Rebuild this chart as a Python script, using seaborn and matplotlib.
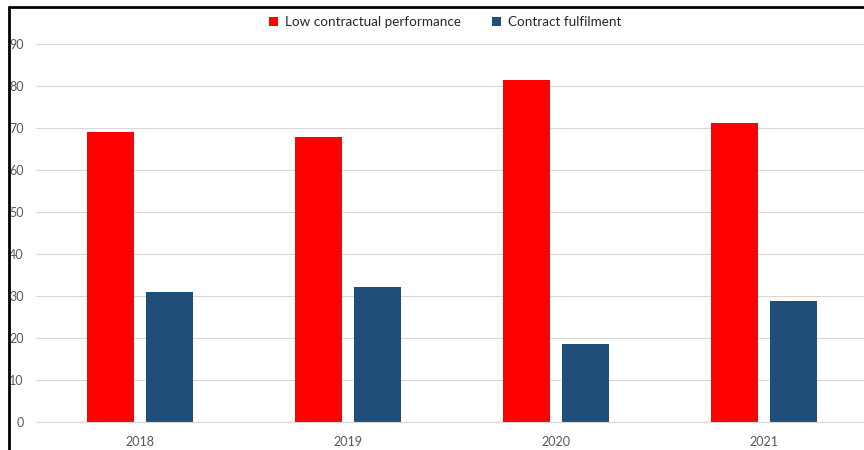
import matplotlib
matplotlib.use("Agg")
import matplotlib.pyplot as plt
import seaborn as sns
import pandas as pd
from matplotlib.lines import Line2D
from matplotlib.patches import Patch

years = ["2018", "2019", "2020", "2021"]
low_perf = [69.0, 67.8, 81.4, 71.3]
fulfilment = [30.9, 32.1, 18.6, 28.8]
series = ["Low contractual performance", "Contract fulfilment"]
colors = ["#FF0000", "#1F4E79"]

df = pd.DataFrame({
    "year": years * 2,
    "value": low_perf + fulfilment,
    "series": [series[0]] * len(years) + [series[1]] * len(years),
})

sns.set_style("white")
plt.rcParams['font.family'] = ['Lato', 'DejaVu Sans']

fig = plt.figure(figsize=(8.64, 4.5), dpi=100)
ax = fig.add_axes([36 / 864, 1 - 422 / 450, 832 / 864, 378 / 450])

sns.barplot(data=df, x="year", y="value", hue="series", palette=colors,
            saturation=1, width=0.567, gap=0.2, linewidth=0,
            legend=False, ax=ax)

ax.set_ylim(0, 90)
ax.set_xlim(-0.5, 3.5)
ax.set_yticks(range(0, 91, 10))
ax.yaxis.grid(True, color="#D9D9D9", linewidth=0.8)
ax.set_axisbelow(True)
for s in ["top", "right", "left"]:
    ax.spines[s].set_visible(False)
ax.spines["bottom"].set_color("#D9D9D9")
ax.spines["bottom"].set_linewidth(0.8)
ax.tick_params(axis="both", length=0, labelsize=9, labelcolor="#595959")
ax.tick_params(axis="y", pad=9)
ax.tick_params(axis="x", pad=10)
ax.set_xlabel("")
ax.set_ylabel("")

handles = [Patch(facecolor=c, edgecolor="none") for c in colors]
fig.legend(handles, series, loc="center", bbox_to_anchor=(445 / 864, 1 - 22 / 450),
           ncol=2, frameon=False, fontsize=9.7, handlelength=0.7, handleheight=0.7,
           handletextpad=0.5, columnspacing=2.3, labelcolor="#262626")

# chart frame (cut at right and bottom)
fig.add_artist(Line2D([9 / 864, 1], [1 - 7 / 450] * 2, color="black", linewidth=2,
                      transform=fig.transFigure))
fig.add_artist(Line2D([9 / 864] * 2, [0, 1 - 7 / 450], color="black", linewidth=2,
                      transform=fig.transFigure))

fig.savefig("out.png", dpi=100)
